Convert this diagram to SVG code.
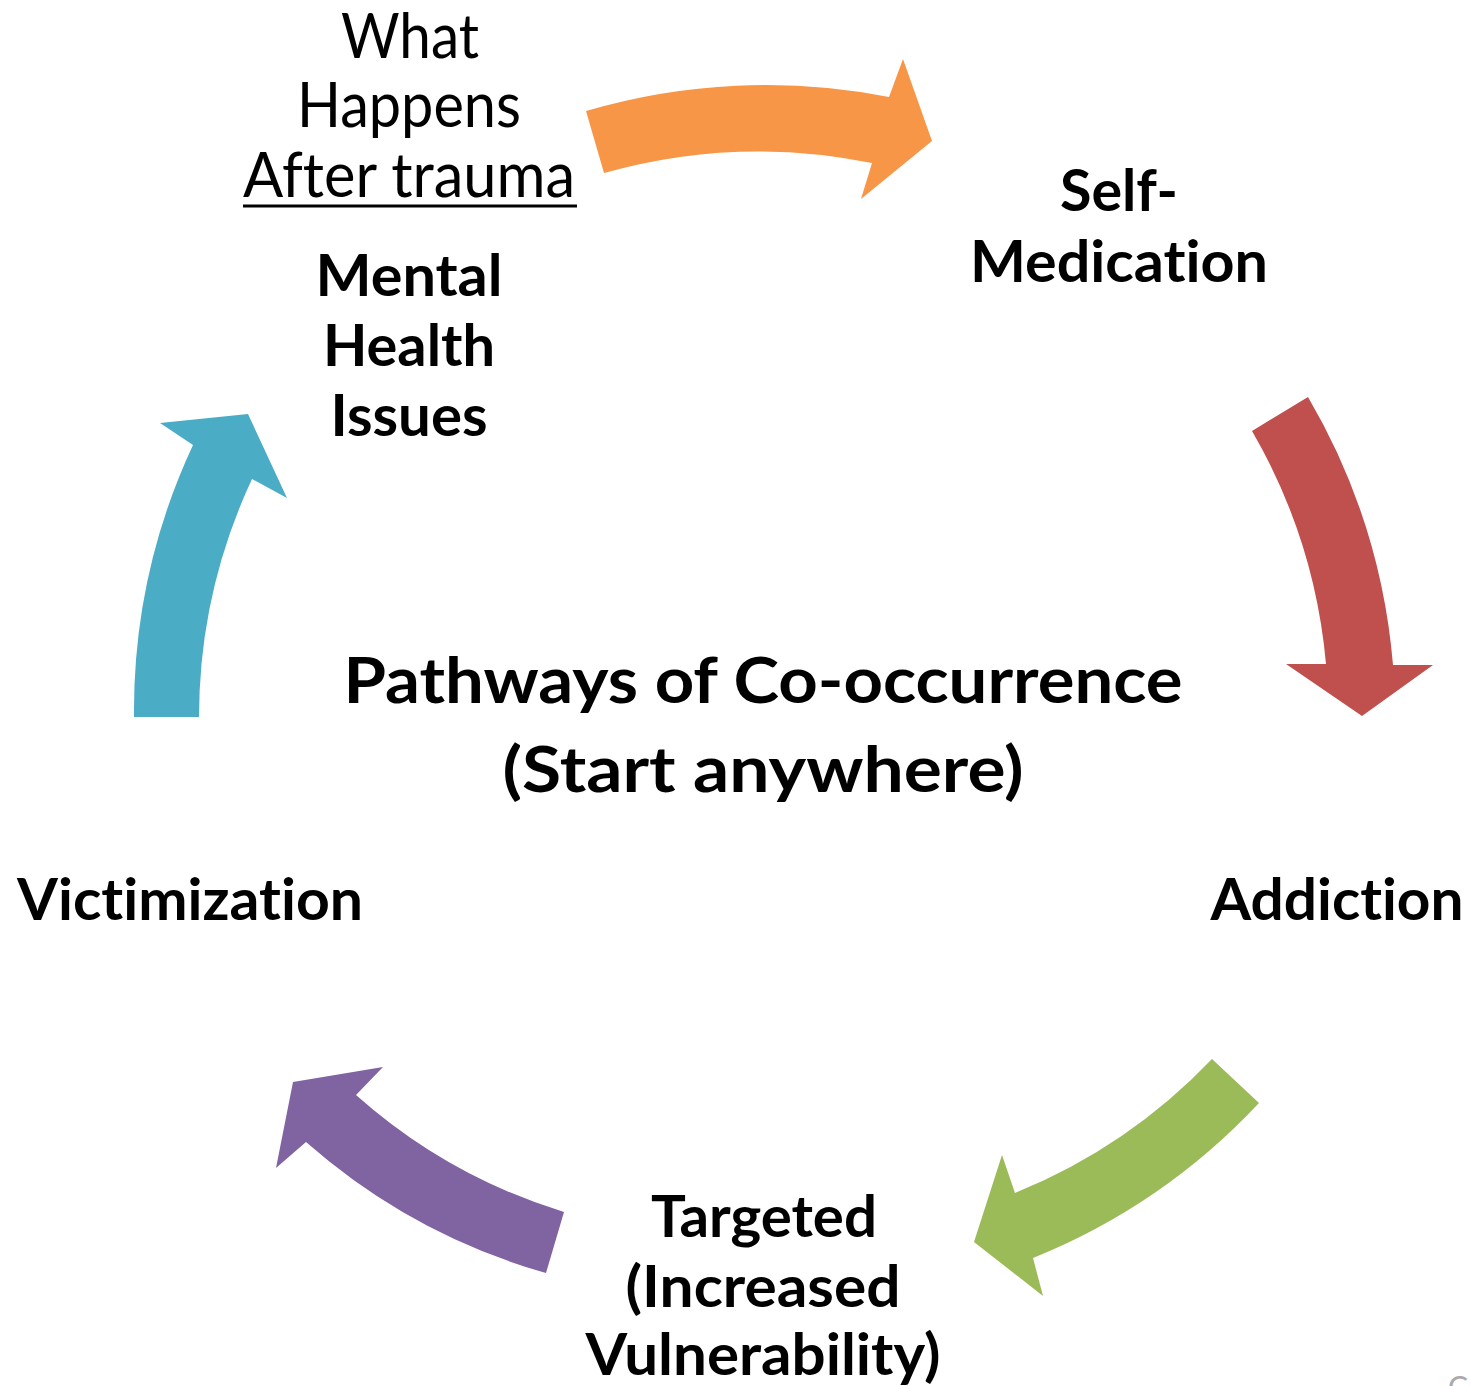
<svg xmlns="http://www.w3.org/2000/svg" width="1470" height="1386" viewBox="0 0 1470 1386">
  <style>
    text { font-variant-ligatures: none; font-feature-settings: "liga" 0, "clig" 0, "dlig" 0; }
    .lbl { font-family: Lato, "Open Sans", "Liberation Sans", sans-serif; font-weight: 700; font-size: 58px; fill: #000; text-anchor: middle; }
    .reg { font-family: Lato, "Open Sans", "Liberation Sans", sans-serif; font-weight: 400; font-size: 62px; fill: #000; text-anchor: middle; }
    .title { font-family: Lato, "Open Sans", "Liberation Sans", sans-serif; font-weight: 700; font-size: 64px; fill: #000; text-anchor: middle; }
    .arrow { stroke: none; }
  </style>
  <rect width="1470" height="1386" fill="#ffffff"/>

  <!-- curved block arrows running clockwise round the cycle -->
  <g id="connectors">
    <path id="arrow-orange" class="arrow" fill="#F79646"
          d="M 604 173 L 586 111 A 636 636 0 0 1 889 97 L 903 59 L 932 141 L 861 199 L 872 163 A 570 570 0 0 0 604 173 Z"/>
    <path id="arrow-red" class="arrow" fill="#C0504D"
          d="M 1252 431 L 1308 397 A 636 636 0 0 1 1393 665 L 1433 665 L 1362 716 L 1286 664 L 1326 664 A 566 566 0 0 0 1252 431 Z"/>
    <path id="arrow-green" class="arrow" fill="#9BBB59"
          d="M 1212 1059 L 1259 1103 A 636 636 0 0 1 1033 1258 L 1043 1296 L 974 1242 L 1002 1155 L 1015 1193 A 566 566 0 0 0 1212 1059 Z"/>
    <path id="arrow-purple" class="arrow" fill="#8064A2"
          d="M 564 1212 L 546 1273 A 620 620 0 0 1 306 1142 L 276 1168 L 293 1082 L 383 1067 L 356 1095 A 560 560 0 0 0 564 1212 Z"/>
    <path id="arrow-teal" class="arrow" fill="#4BACC6"
          d="M 199 717 L 134 717 A 630 630 0 0 1 193 445 L 160 423 L 248 414 L 287 498 L 252 479 A 565 565 0 0 0 199 717 Z"/>
  </g>

  <!-- heading above the first stage -->
  <g id="node-trauma">
    <text class="reg" x="410" y="58" textLength="138" lengthAdjust="spacingAndGlyphs">What</text>
    <text class="reg" x="409" y="127" textLength="224" lengthAdjust="spacingAndGlyphs">Happens</text>
    <text class="reg" x="409" y="197" textLength="332" lengthAdjust="spacingAndGlyphs">After trauma</text>
    <line x1="243" y1="206" x2="577" y2="206" stroke="#000" stroke-width="3"/>
  </g>

  <g id="node-mental-health">
    <text class="lbl" x="409" y="296" textLength="187" lengthAdjust="spacingAndGlyphs">Mental</text>
    <text class="lbl" x="409" y="366" textLength="172" lengthAdjust="spacingAndGlyphs">Health</text>
    <text class="lbl" x="409" y="436" textLength="157" lengthAdjust="spacingAndGlyphs">Issues</text>
  </g>

  <g id="node-self-medication">
    <text class="lbl" x="1119" y="211" textLength="118" lengthAdjust="spacingAndGlyphs">Self-</text>
    <text class="lbl" x="1119" y="282" textLength="298" lengthAdjust="spacingAndGlyphs">Medication</text>
  </g>

  <g id="node-addiction">
    <text class="lbl" x="1337" y="920" textLength="253" lengthAdjust="spacingAndGlyphs">Addiction</text>
  </g>

  <g id="node-targeted">
    <text class="lbl" x="764" y="1237" textLength="226" lengthAdjust="spacingAndGlyphs">Targeted</text>
    <text class="lbl" x="763" y="1307" textLength="275" lengthAdjust="spacingAndGlyphs">(Increased</text>
    <text class="lbl" x="763" y="1375" textLength="355" lengthAdjust="spacingAndGlyphs">Vulnerability)</text>
  </g>

  <g id="node-victimization">
    <text class="lbl" x="190" y="920" textLength="346" lengthAdjust="spacingAndGlyphs">Victimization</text>
  </g>

  <g id="center-title">
    <text class="title" x="763" y="703" textLength="839" lengthAdjust="spacingAndGlyphs">Pathways of Co-occurrence</text>
    <text class="title" x="763" y="792" textLength="521" lengthAdjust="spacingAndGlyphs">(Start anywhere)</text>
  </g>

  <!-- credit line running off the lower edge -->
  <text x="1448" y="1398" font-family="Lato, 'Liberation Sans', sans-serif" font-size="30" fill="#aaaaaa">Cr</text>
</svg>
